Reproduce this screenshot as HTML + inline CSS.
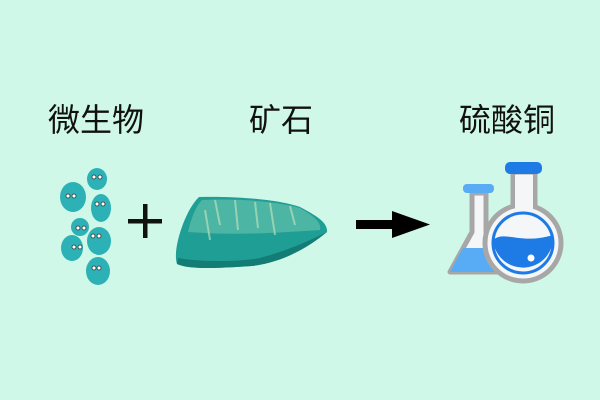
<!DOCTYPE html>
<html><head><meta charset="utf-8"><style>
body{margin:0;width:600px;height:400px;background:#cff8e8;overflow:hidden;position:relative;font-family:"Liberation Sans","Noto Sans CJK SC",sans-serif}
.t{position:absolute;top:101px;font-size:32px;color:#111;line-height:38px}
</style></head><body>
<div class="t" style="left:48px">微生物</div>
<div class="t" style="left:249px">矿石</div>
<div class="t" style="left:459px">硫酸铜</div>
<svg width="600" height="400" style="position:absolute;left:0;top:0">
<g fill="#2cb2b6">
<ellipse cx="97" cy="179" rx="10" ry="11"/>
<ellipse cx="73" cy="197" rx="13" ry="15"/>
<ellipse cx="101" cy="208" rx="10" ry="14"/>
<ellipse cx="80" cy="227" rx="9" ry="9"/>
<ellipse cx="99" cy="241" rx="12" ry="14"/>
<ellipse cx="72" cy="248" rx="11" ry="13"/>
<ellipse cx="98" cy="271" rx="12" ry="14"/>
</g>
<g fill="#fff" stroke="#333" stroke-width="0.8">
<circle cx="94" cy="177" r="2"/><circle cx="100" cy="177" r="2"/>
<circle cx="68" cy="196" r="2"/><circle cx="74" cy="196" r="2"/>
<circle cx="97" cy="204" r="2"/><circle cx="103" cy="204" r="2"/>
<circle cx="78" cy="228" r="2"/><circle cx="84" cy="228" r="2"/>
<circle cx="93" cy="236" r="2"/><circle cx="99" cy="236" r="2"/>
<circle cx="74" cy="247" r="2"/><circle cx="80" cy="247" r="2"/>
<circle cx="94" cy="268" r="2"/><circle cx="99" cy="268" r="2"/>
</g>
<rect x="128" y="219" width="34" height="4.5" fill="#111"/>
<rect x="143" y="204" width="4.5" height="34" fill="#111"/>
<path d="M177,264 C172,250 185,210 199,197 C240,196 280,200 300,207 C315,215 328,222 327,232 C310,243 285,262 252,266 C220,268 190,270 177,264Z" fill="#1f9e95"/>
<path d="M188,232 C192,215 197,205 202,200 C240,198 280,202 300,208 C312,215 322,222 320,230 C290,232 240,236 188,232Z" fill="#5fbfaa" opacity="0.7"/>
<g stroke="#c8e6c0" stroke-width="2" opacity="0.6">
<line x1="215" y1="200" x2="220" y2="225"/><line x1="235" y1="200" x2="238" y2="230"/><line x1="255" y1="202" x2="258" y2="228"/><line x1="270" y1="203" x2="275" y2="235"/><line x1="290" y1="206" x2="295" y2="225"/><line x1="205" y1="210" x2="210" y2="240"/>
</g>
<path d="M178,258 C200,262 240,262 260,258 C290,250 315,238 327,232 C310,246 285,262 252,266 C220,268 190,270 177,264Z" fill="#137c74"/>
<rect x="356" y="220" width="42" height="9" fill="#000"/>
<polygon points="392,211 430,224.5 392,238" fill="#000"/>
<path d="M472,193 L486,193 L486,232 L506,272 L450,272 L472,232Z" fill="#f4f6f8" stroke="#a7a7a7" stroke-width="5" stroke-linejoin="round"/>
<path d="M463,248 L497,248 L506,272 L450,272Z" fill="#58abf5"/>
<rect x="463" y="184" width="31" height="9" rx="4" fill="#58abf5"/>
<rect x="513" y="172" width="22" height="40" fill="#f4f6f8" stroke="#a7a7a7" stroke-width="5"/>
<circle cx="523" cy="243" r="38" fill="#f4f6f8" stroke="#a7a7a7" stroke-width="5"/>
<rect x="515" y="175" width="18" height="40" fill="#f4f6f8"/>
<circle cx="523" cy="243" r="30" fill="#f4f6f8" stroke="#1e7be6" stroke-width="3"/>
<path d="M493,240 C505,230 520,245 553,235 A30,30 0 0 1 493,240Z" fill="#1e7be6"/>
<circle cx="531" cy="258" r="3.5" fill="#fff"/>
<rect x="505" y="162" width="37" height="12" rx="5" fill="#1e7be6"/>
</svg>
</body></html>
